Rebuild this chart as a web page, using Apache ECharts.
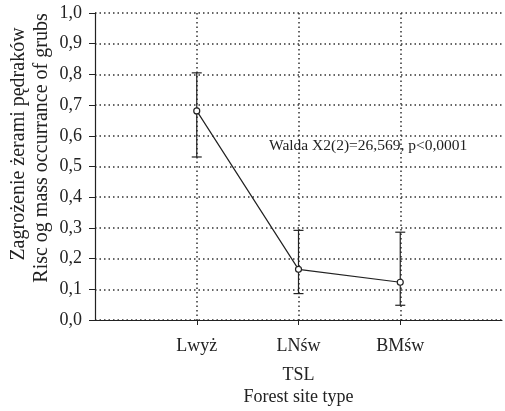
<!DOCTYPE html>
<html>
<head>
<meta charset="utf-8">
<script src="https://cdn.jsdelivr.net/npm/echarts@6/dist/echarts.min.js"></script>
<style>
  html, body { margin: 0; padding: 0; background: #fff; }
  #chart { width: 505px; height: 411px; }
</style>
</head>
<body>
<div id="chart"></div>
<script>
// kategorie TSL, puste pozycje na brzegach osi
var categories = ['', 'Lwyż', 'LNśw', 'BMśw', ''];
var means = [null, 0.681, 0.165, 0.123, null];
var lower = [null, 0.531, 0.086, 0.048, null];
var upper = [null, 0.805, 0.292, 0.286, null];
var yTicks = [0, 0.1, 0.2, 0.3, 0.4, 0.5, 0.6, 0.7, 0.8, 0.9, 1.0];
var yTitle = ['Zagrożenie żerami pędraków', 'Risc og mass occurrance of grubs'];

var FONT = '"Liberation Serif", "DejaVu Serif", serif';
var chart = echarts.init(document.getElementById('chart'));

var errData = [];
for (var i = 0; i < categories.length; i++) {
    if (means[i] !== null) errData.push([i, lower[i], upper[i]]);
}
var lineData = [];
for (var j = 0; j < categories.length; j++) {
    if (means[j] !== null) lineData.push([j, means[j]]);
}

var option = {
    animation: false,
    grid: { left: 95, right: -3, top: 13, bottom: 86 },
    xAxis: {
        type: 'category',
        data: categories,
        boundaryGap: false,
        name: '{a|TSL}\n{a|Forest site type}',
        nameLocation: 'middle',
        nameGap: 44,
        nameTextStyle: {
            rich: { a: { fontFamily: FONT, fontSize: 18, color: '#222', lineHeight: 22, align: 'center' } }
        },
        axisLine: { lineStyle: { color: '#222', width: 1.2 } },
        axisTick: {
            length: 5,
            interval: function (idx) { return idx >= 1 && idx <= 3; },
            lineStyle: { color: '#222' }
        },
        axisLabel: {
            interval: 0,
            margin: 17,
            fontFamily: FONT, fontSize: 18, color: '#222'
        },
        splitLine: {
            show: true,
            interval: function (idx) { return idx >= 1 && idx <= 3; },
            lineStyle: { color: '#333', type: [1.5, 3], width: 1.5 }
        }
    },
    yAxis: {
        type: 'value',
        min: 0, max: 1, interval: 0.1,
        axisLine: { show: true, lineStyle: { color: '#222', width: 1.2 } },
        axisTick: { show: true, length: 6, lineStyle: { color: '#222' } },
        axisLabel: {
            margin: 13,
            fontFamily: FONT, fontSize: 18, color: '#222',
            formatter: function (v) {
                var t = yTicks.reduce(function (a, b) { return Math.abs(b - v) < Math.abs(a - v) ? b : a; });
                return t.toFixed(1).replace('.', ',');
            }
        },
        splitLine: { show: true, lineStyle: { color: '#333', type: [1.5, 3], width: 1.5 } }
    },
    graphic: [
        {
            type: 'text', x: 19, y: 144, rotation: Math.PI / 2,
            style: { text: yTitle[0], font: '20px ' + FONT, fill: '#222', align: 'center', verticalAlign: 'middle' }
        },
        {
            type: 'text', x: 42, y: 148, rotation: Math.PI / 2,
            style: { text: yTitle[1], font: '20px ' + FONT, fill: '#222', align: 'center', verticalAlign: 'middle' }
        },
        {
            type: 'text', left: 269, top: 138,
            style: { text: 'Walda X2(2)=26,569, p<0,0001', font: '15.5px ' + FONT, fill: '#222' },
            z: 100
        }
    ],
    series: [
        {
            type: 'custom',
            data: errData,
            z: 5,
            renderItem: function (params, api) {
                var lo = api.coord([api.value(0), api.value(1)]);
                var hi = api.coord([api.value(0), api.value(2)]);
                var w = 5;
                var st = { stroke: '#222', lineWidth: 1.2 };
                return {
                    type: 'group',
                    children: [
                        { type: 'line', shape: { x1: hi[0], y1: hi[1], x2: lo[0], y2: lo[1] }, style: st },
                        { type: 'line', shape: { x1: hi[0] - w, y1: hi[1], x2: hi[0] + w, y2: hi[1] }, style: st },
                        { type: 'line', shape: { x1: lo[0] - w, y1: lo[1], x2: lo[0] + w, y2: lo[1] }, style: st }
                    ]
                };
            }
        },
        {
            type: 'line',
            data: lineData,
            z: 6,
            symbol: 'circle',
            symbolSize: 6,
            showSymbol: true,
            lineStyle: { color: '#222', width: 1.2 },
            itemStyle: { color: '#fff', borderColor: '#222', borderWidth: 1.2 }
        }
    ]
};
chart.setOption(option);
</script>
</body>
</html>
